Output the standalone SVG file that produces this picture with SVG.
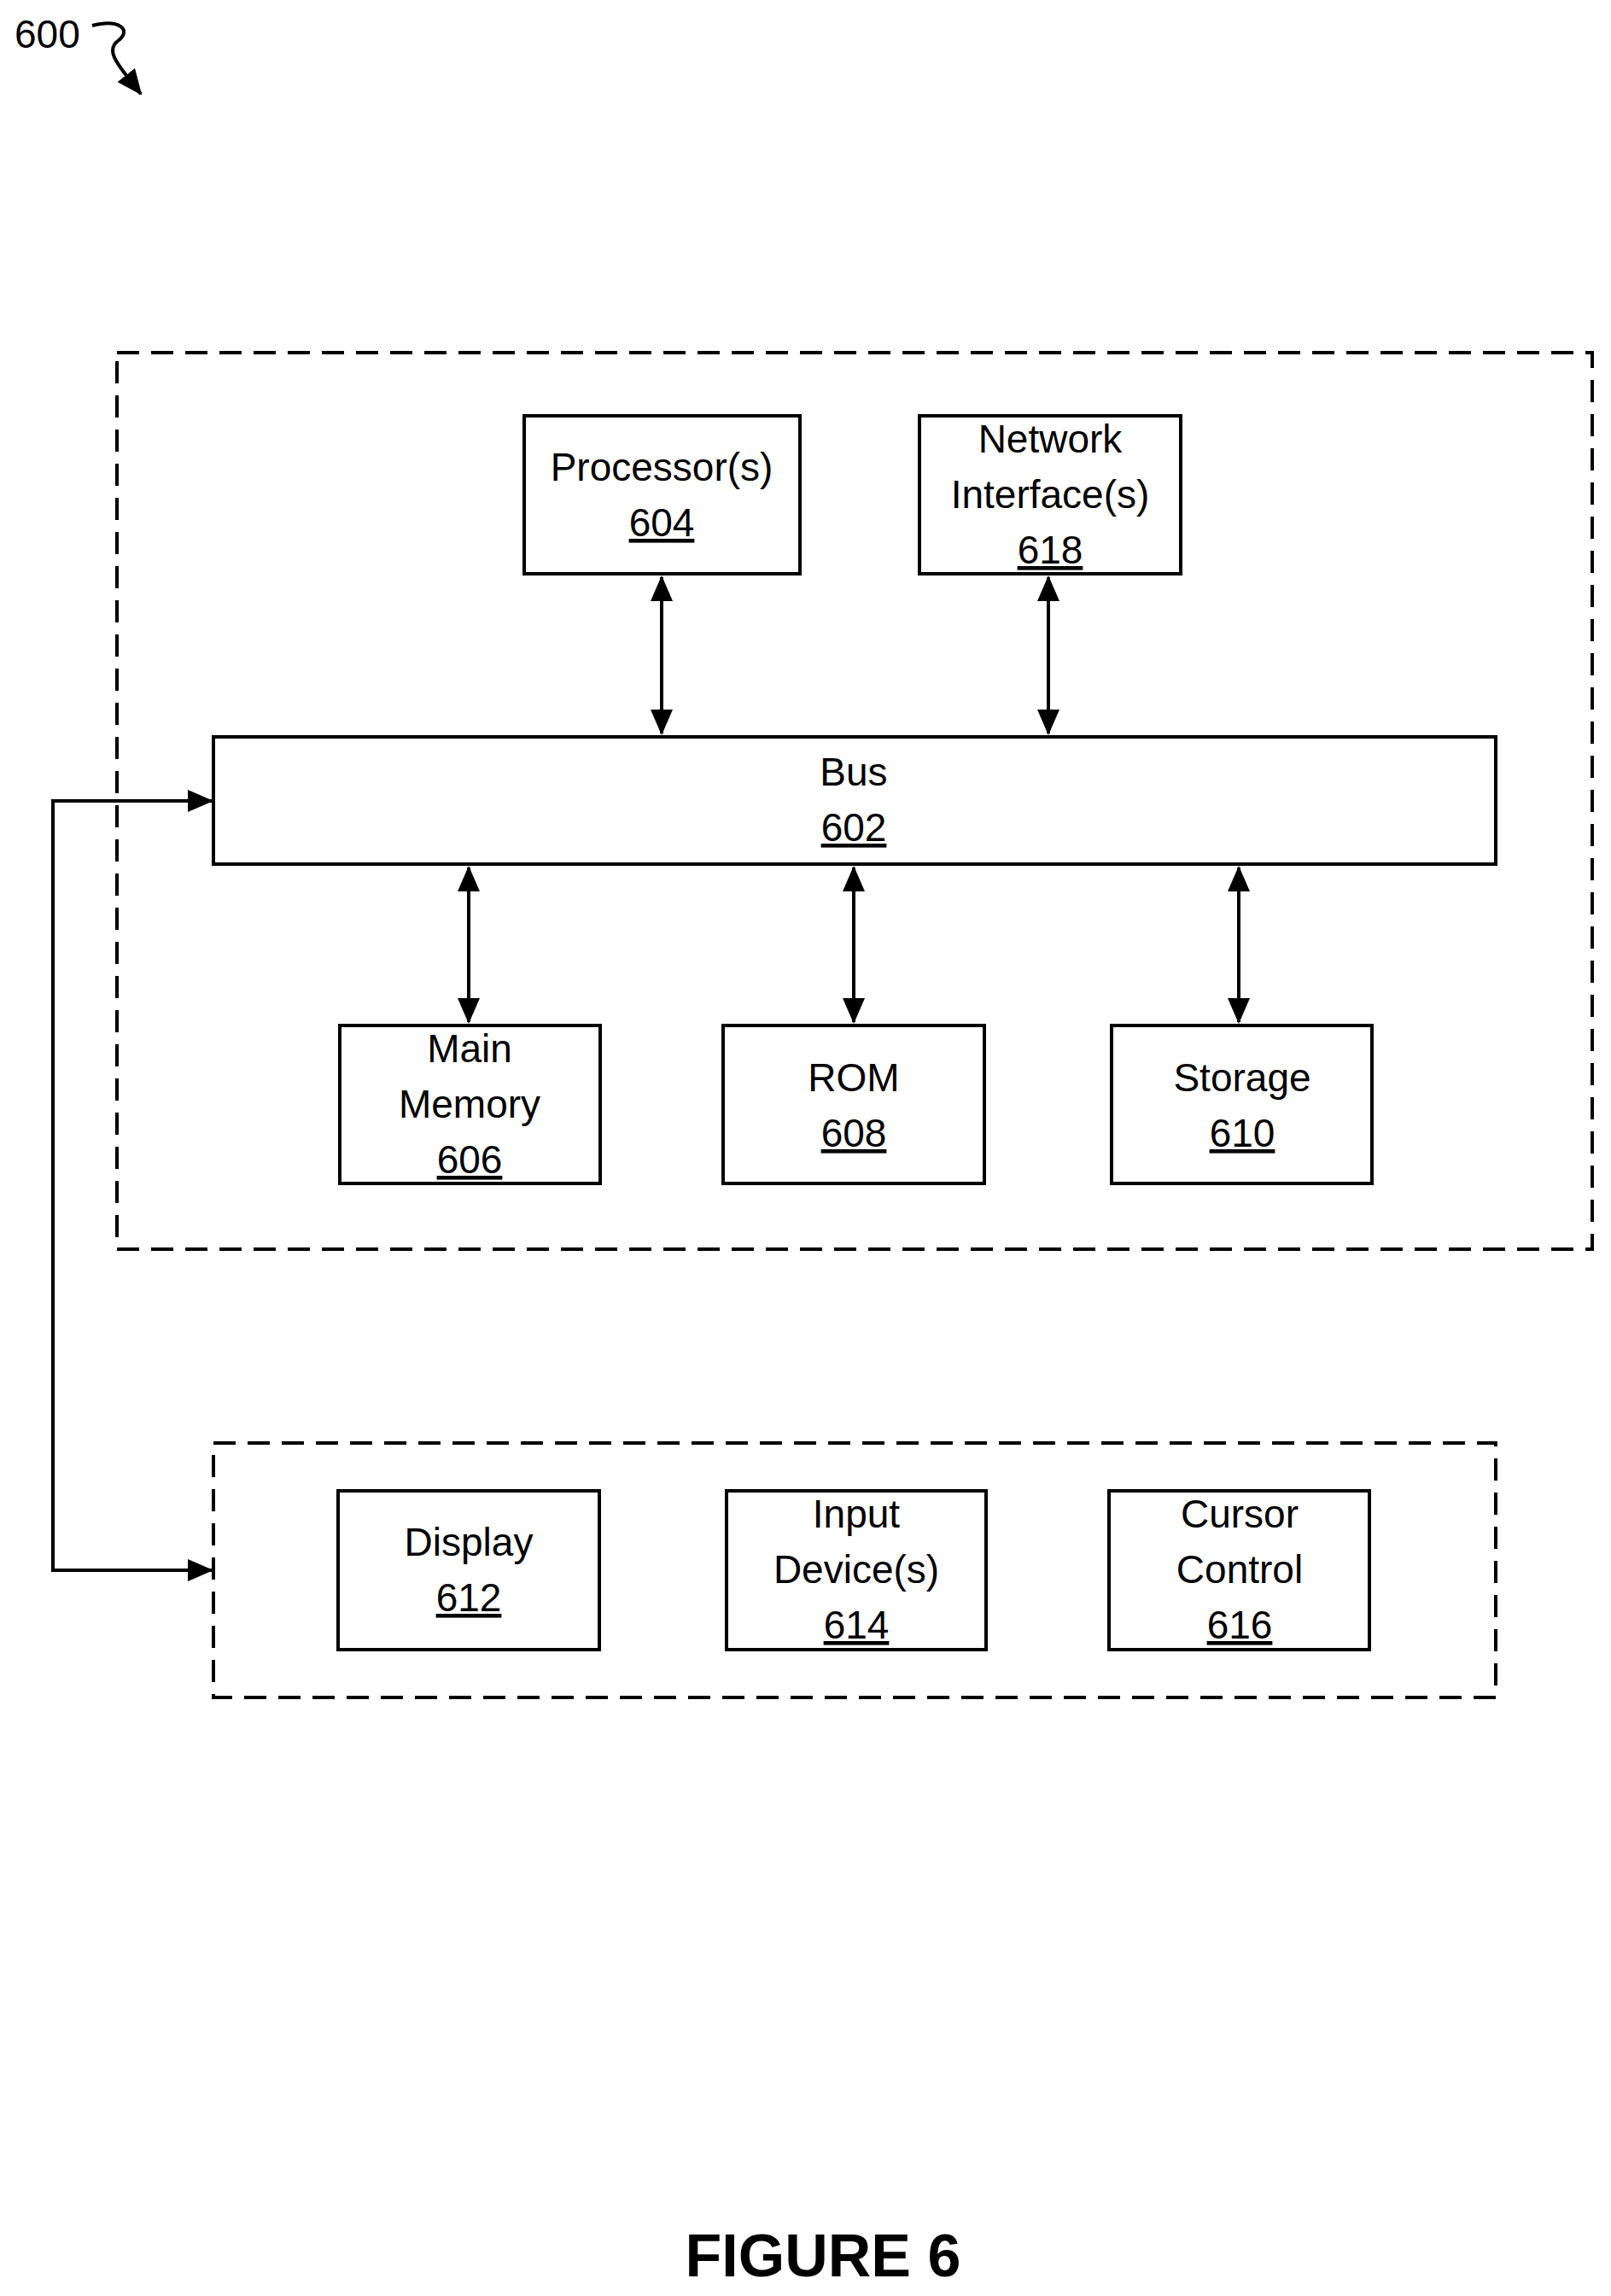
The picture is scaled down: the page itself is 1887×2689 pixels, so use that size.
<svg xmlns="http://www.w3.org/2000/svg" width="1887" height="2689" viewBox="0 0 1887 2689">
<style>
.box{fill:#fff;stroke:#000;stroke-width:4}
.dash{fill:none;stroke:#000;stroke-width:4;stroke-dasharray:26 14}
.t{font-family:"Liberation Sans",Arial,sans-serif;font-size:46px;text-anchor:middle;fill:#000}
.u{text-decoration:underline}
.c{fill:none;stroke:#000;stroke-width:4}
</style>
<defs>
<marker id="a" markerUnits="userSpaceOnUse" markerWidth="30" markerHeight="30" refX="28" refY="13" orient="auto-start-reverse">
<path d="M0,0 L30,13 L0,26 Z" fill="#000"/>
</marker>
</defs>
<rect width="1887" height="2689" fill="#fff"/>
<text x="17" y="56" style="font-family:'Liberation Sans',Arial,sans-serif;font-size:46px">600</text>
<path d="M108,30 C140,22 155,35 138,48 C122,60 140,78 165,110" class="c" marker-end="url(#a)"/>
<rect x="137" y="413" width="1728" height="1050" class="dash"/>
<rect x="250" y="1690" width="1502" height="298" class="dash"/>
<g id="connectors">
<line x1="775" y1="676" x2="775" y2="859" class="c" marker-start="url(#a)" marker-end="url(#a)"/>
<line x1="1228" y1="676" x2="1228" y2="859" class="c" marker-start="url(#a)" marker-end="url(#a)"/>
<line x1="549" y1="1016" x2="549" y2="1197" class="c" marker-start="url(#a)" marker-end="url(#a)"/>
<line x1="1000" y1="1016" x2="1000" y2="1197" class="c" marker-start="url(#a)" marker-end="url(#a)"/>
<line x1="1451" y1="1016" x2="1451" y2="1197" class="c" marker-start="url(#a)" marker-end="url(#a)"/>
<polyline points="248,938 62,938 62,1839 248,1839" class="c" marker-start="url(#a)" marker-end="url(#a)"/>
</g>
<g id="n604"><rect x="614" y="487" width="323" height="185" class="box"/><text class="t" x="775" y="563">Processor(s)</text><text class="t u" x="775" y="628">604</text></g>
<g id="n618"><rect x="1077" y="487" width="306" height="185" class="box"/><text class="t" x="1230" y="530">Network</text><text class="t" x="1230" y="595">Interface(s)</text><text class="t u" x="1230" y="660">618</text></g>
<g id="n602"><rect x="250" y="863" width="1502" height="149" class="box"/><text class="t" x="1000" y="920">Bus</text><text class="t u" x="1000" y="985">602</text></g>
<g id="n606"><rect x="398" y="1201" width="305" height="185" class="box"/><text class="t" x="550" y="1244">Main</text><text class="t" x="550" y="1309">Memory</text><text class="t u" x="550" y="1374">606</text></g>
<g id="n608"><rect x="847" y="1201" width="306" height="185" class="box"/><text class="t" x="1000" y="1278">ROM</text><text class="t u" x="1000" y="1343">608</text></g>
<g id="n610"><rect x="1302" y="1201" width="305" height="185" class="box"/><text class="t" x="1455" y="1278">Storage</text><text class="t u" x="1455" y="1343">610</text></g>
<g id="n612"><rect x="396" y="1746" width="306" height="186" class="box"/><text class="t" x="549" y="1822">Display</text><text class="t u" x="549" y="1887">612</text></g>
<g id="n614"><rect x="851" y="1746" width="304" height="186" class="box"/><text class="t" x="1003" y="1789">Input</text><text class="t" x="1003" y="1854">Device(s)</text><text class="t u" x="1003" y="1919">614</text></g>
<g id="n616"><rect x="1299" y="1746" width="305" height="186" class="box"/><text class="t" x="1452" y="1789">Cursor</text><text class="t" x="1452" y="1854">Control</text><text class="t u" x="1452" y="1919">616</text></g>
<text x="964" y="2666" style="font-family:'Liberation Sans',Arial,sans-serif;font-size:70px;font-weight:bold;text-anchor:middle">FIGURE 6</text>
</svg>
